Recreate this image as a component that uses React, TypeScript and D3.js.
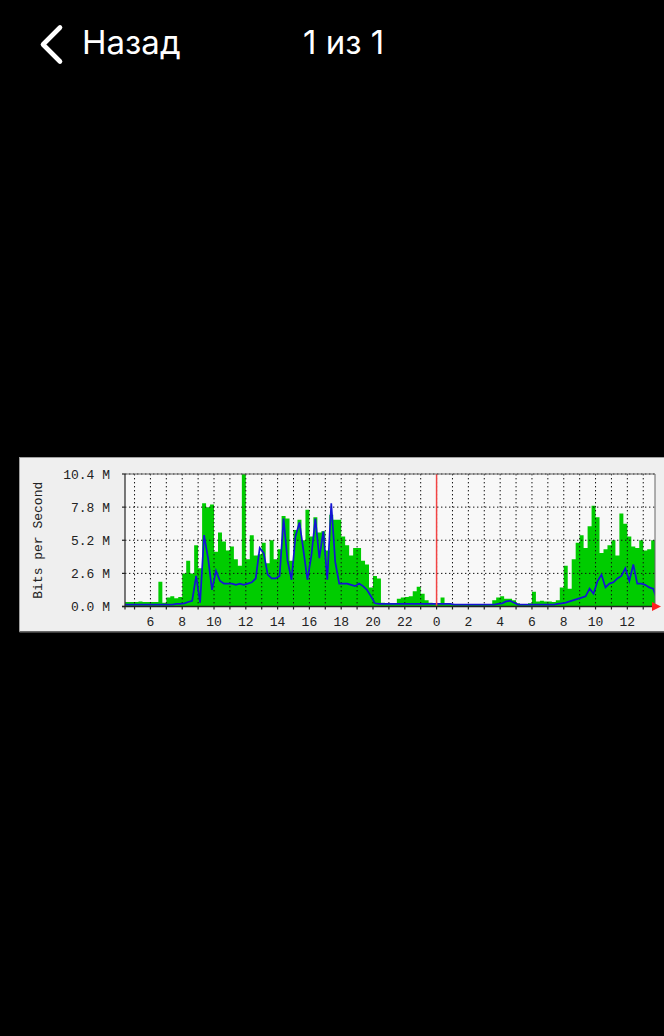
import * as d3 from 'd3';

// 15-minute samples starting at 04:15 of the previous day (hours > 24 are today)
const sampleStart = 4.25;
const sampleStep = 0.25;

const bitsIn = [
  0.35, 0.35, 0.35,
  0.35, 0.4, 0.35, 0.35,
  0.35, 0.35, 1.95, 0.3,
  0.7, 0.8, 0.65, 0.75,
  2.6, 3.6, 2.6, 4.8,
  3.0, 8.1, 7.8, 8.0,
  4.3, 5.8, 5.1, 4.4,
  4.7, 3.7, 3.2, 10.4,
  3.7, 5.6, 4.0, 4.1,
  5.0, 3.4, 5.2, 3.7,
  4.5, 7.1, 6.9, 3.6,
  6.0, 6.8, 5.2, 7.6,
  5.5, 7.0, 5.8, 5.9,
  4.4, 7.2, 6.8, 6.8,
  5.5, 4.8, 4.0, 4.6,
  4.6, 3.6, 3.3, 1.5,
  2.4, 2.2, 0.3, 0.25,
  0.25, 0.25, 0.6, 0.7,
  0.75, 0.8, 1.2, 1.55,
  1.0, 0.5, 0.3, 0.2,
  0.2, 0.7, 0.2, 0.2,
  0.2, 0.2, 0.2, 0.2,
  0.2, 0.2, 0.2, 0.2,
  0.2, 0.2, 0.5, 0.7,
  0.8, 0.6, 0.6, 0.5,
  0.25, 0.2, 0.2, 0.25,
  1.15, 0.4, 0.45, 0.4,
  0.4, 0.35, 0.5, 1.5,
  3.2, 1.4, 3.7, 5.0,
  5.6, 4.6, 6.3, 7.9,
  7.0, 4.2, 4.5, 4.8,
  5.2, 4.0, 7.3, 6.5,
  5.5, 4.7, 4.6, 5.2,
  4.4, 4.5, 5.2, 5.0,
];

const bitsOut = [
  0.15, 0.15, 0.15,
  0.15, 0.15, 0.15, 0.15,
  0.15, 0.15, 0.15, 0.15,
  0.15, 0.15, 0.2, 0.2,
  0.25, 0.35, 0.45, 2.4,
  0.3, 5.6, 3.8, 1.3,
  2.8, 2.0, 1.8, 1.8,
  1.8, 1.7, 1.8, 1.7,
  1.8, 1.9, 2.2, 4.6,
  4.2, 2.5, 2.2, 2.2,
  2.4, 6.9, 3.6, 2.1,
  5.5, 6.6, 4.4, 2.1,
  4.0, 6.9, 3.8, 5.9,
  2.1, 8.1, 3.5, 1.8,
  1.8, 1.8, 1.7, 1.6,
  1.8, 1.6, 1.3, 0.8,
  0.25, 0.2, 0.2, 0.2,
  0.2, 0.2, 0.2, 0.2,
  0.2, 0.2, 0.2, 0.2,
  0.2, 0.2, 0.2, 0.2,
  0.2, 0.2, 0.2, 0.2,
  0.15, 0.15, 0.15, 0.15,
  0.15, 0.15, 0.15, 0.15,
  0.15, 0.15, 0.15, 0.2,
  0.25, 0.4, 0.45, 0.3,
  0.15, 0.15, 0.15, 0.15,
  0.15, 0.15, 0.15, 0.15,
  0.15, 0.15, 0.2, 0.25,
  0.3, 0.4, 0.5, 0.6,
  0.7, 0.8, 1.4, 1.0,
  2.0, 2.5, 1.5, 1.8,
  1.9, 2.2, 2.4, 3.0,
  2.0, 3.3, 1.8, 1.8,
  1.7, 1.5, 1.4, 0.5,
];

const yTicks = [0, 2.6, 5.2, 7.8, 10.4];
const gridHours = d3.range(5, 38);
const labelHours = [6, 8, 10, 12, 14, 16, 18, 20, 22, 24, 26, 28, 30, 32, 34, 36];
const midnight = 24;
const timeDomain: [number, number] = [4.4, 37.74];

const W = 664;
const H = 1036;
const plot = { left: 125, right: 655, top: 474, bottom: 606.5 };
const mono = '"Liberation Mono", "DejaVu Sans Mono", monospace';

export default function App() {
  const x = d3.scaleLinear().domain(timeDomain).range([plot.left, plot.right]);
  const y = d3.scaleLinear().domain([0, 10.4]).range([plot.bottom, plot.top]);

  const samples = bitsIn.map((v, i) => ({
    t: sampleStart + i * sampleStep,
    vin: v,
    vout: bitsOut[i],
  }));

  const areaIn = d3
    .area<(typeof samples)[number]>()
    .x((d) => x(d.t))
    .y0(y(0))
    .y1((d) => y(d.vin))
    .curve(d3.curveStepAfter);

  const lineOut = d3
    .line<(typeof samples)[number]>()
    .x((d) => x(d.t + sampleStep / 2))
    .y((d) => y(d.vout));

  const fmt = (v: number) => `${v.toFixed(1)} M`;

  return (
    <div style={{ position: 'fixed', inset: 0, background: '#000' }}>
      <svg width={W} height={H} style={{ display: 'block' }}>
        <rect width={W} height={H} fill='#000' />

        {/* header */}
        <path
          d='M60,27.5 L43,44.5 L60,61.5'
          fill='none'
          stroke='#fff'
          strokeWidth={4.6}
          strokeLinecap='round'
          strokeLinejoin='round'
        />
        <text x={82} y={54} fill='#fff' fontFamily='Inter, "Noto Sans", sans-serif' fontSize={33}>
          Назад
        </text>
        <text x={303} y={54} fill='#fff' fontFamily='Inter, "Noto Sans", sans-serif' fontSize={33}>
          1 из 1
        </text>

        {/* chart panel */}
        <rect x={19.5} y={457.5} width={660} height={174} fill='#efefef' stroke='#a0a0a0' />
        <line x1={19.5} x2={664} y1={632} y2={632} stroke='#555' strokeWidth={1.5} />

        <defs>
          <clipPath id='plot-clip'>
            <rect x={plot.left} y={plot.top - 2} width={plot.right - plot.left} height={plot.bottom - plot.top + 2} />
          </clipPath>
        </defs>

        <rect
          x={plot.left}
          y={plot.top}
          width={plot.right - plot.left}
          height={plot.bottom - plot.top}
          fill='#f8f8f8'
        />

        <g clipPath='url(#plot-clip)'>
          <path d={areaIn(samples) ?? ''} fill='#00cc00' />
        </g>

        {/* grid */}
        <g stroke='#111' strokeWidth={1} strokeDasharray='1.4,2.6'>
          {gridHours.map((h) => (
            <line key={h} x1={x(h)} x2={x(h)} y1={plot.top} y2={plot.bottom} />
          ))}
          {yTicks.slice(1).map((v) => (
            <line key={v} x1={plot.left} x2={plot.right} y1={y(v)} y2={y(v)} />
          ))}
        </g>

        <g clipPath='url(#plot-clip)'>
          <path d={lineOut(samples) ?? ''} fill='none' stroke='#1414d4' strokeWidth={1.7} />
        </g>

        {/* midnight marker */}
        <line x1={x(midnight)} x2={x(midnight)} y1={plot.top} y2={plot.bottom} stroke='#f24444' strokeWidth={1.5} />

        {/* frame and axes */}
        <line x1={plot.left} x2={plot.right} y1={plot.top} y2={plot.top} stroke='#666' strokeWidth={1} />
        <line x1={plot.right} x2={plot.right} y1={plot.top} y2={plot.bottom} stroke='#666' strokeWidth={1} />
        <line x1={plot.left} x2={plot.left} y1={plot.top} y2={plot.bottom + 3} stroke='#333' strokeWidth={1.3} />
        <line x1={plot.left - 3} x2={plot.right} y1={plot.bottom} y2={plot.bottom} stroke='#222' strokeWidth={1.3} />
        <g stroke='#222' strokeWidth={1.2}>
          {gridHours.map((h) => (
            <line key={h} x1={x(h)} x2={x(h)} y1={plot.bottom} y2={plot.bottom + 3} />
          ))}
          {yTicks.map((v) => (
            <line key={v} x1={plot.left - 3} x2={plot.left} y1={y(v)} y2={y(v)} />
          ))}
        </g>
        <path
          d={`M${plot.right - 3},${plot.bottom - 4.5} L${plot.right + 6},${plot.bottom} L${plot.right - 3},${plot.bottom + 4.5} Z`}
          fill='#ff2020'
        />

        {/* labels */}
        <g fontFamily={mono} fontSize={13} fill='#222'>
          {yTicks.map((v) => (
            <text key={v} x={110} y={y(v)} dy='0.35em' textAnchor='end'>
              {fmt(v)}
            </text>
          ))}
          {labelHours.map((h) => (
            <text key={h} x={x(h)} y={626} textAnchor='middle'>
              {h % 24}
            </text>
          ))}
          <text
            transform={`translate(42,${(plot.top + plot.bottom) / 2}) rotate(-90)`}
            textAnchor='middle'
          >
            Bits per Second
          </text>
        </g>
      </svg>
    </div>
  );
}
